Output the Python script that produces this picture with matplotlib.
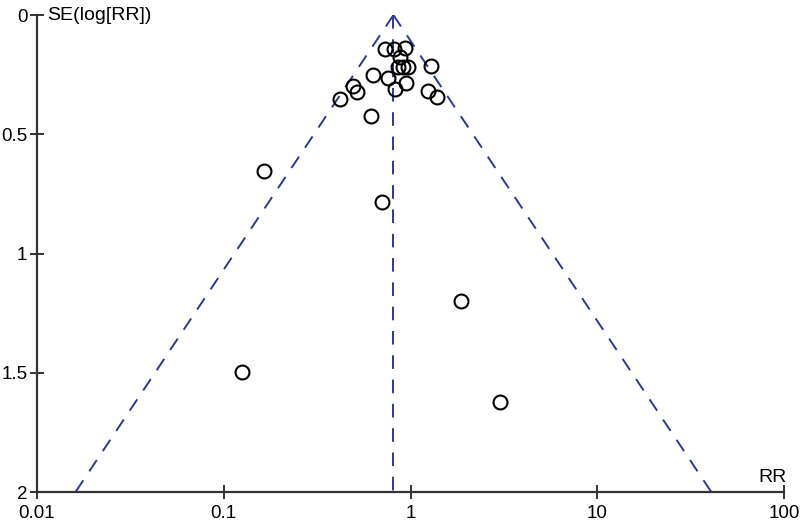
import numpy as np
import matplotlib
matplotlib.use("Agg")
import matplotlib.pyplot as plt

plt.rcParams['font.family'] = ['Liberation Sans', 'DejaVu Sans']

# study estimates
rr = [0.732, 0.814, 0.940, 0.884, 1.290, 0.855, 0.909, 0.967, 0.629, 0.756,
      0.948, 0.821, 0.491, 0.519, 0.417, 1.248, 1.389, 0.616, 0.164, 0.700,
      1.874, 0.125, 3.03]
se = [0.143, 0.143, 0.137, 0.175, 0.213, 0.219, 0.217, 0.217, 0.252, 0.265,
      0.286, 0.310, 0.296, 0.324, 0.352, 0.319, 0.343, 0.424, 0.654, 0.784,
      1.199, 1.497, 1.623]
pooled_rr = 0.81

x_ticks = [0.01, 0.1, 1, 10, 100]
x_labels = ["0.01", "0.1", "1", "10", "100"]
y_ticks = [0, 0.5, 1, 1.5, 2]
y_labels = ["0", "0.5", "1", "1.5", "2"]

fig = plt.figure(figsize=(8, 5.2), dpi=100)
ax = fig.add_axes([0.04625, 0.0538, 0.98 - 0.04625, 0.971 - 0.0538])

line_col = "#2b3990"
dash = (0, (7, 5.5))
se_line = np.array([0, 2.0])
ax.plot(np.exp(np.log(pooled_rr) - 1.96 * se_line), se_line, ls=dash, color=line_col, lw=1.4)
ax.plot(np.exp(np.log(pooled_rr) + 1.96 * se_line), se_line, ls=dash, color=line_col, lw=1.4)
ax.plot([pooled_rr, pooled_rr], [0, 2], ls=dash, color=line_col, lw=1.4)

ax.plot(rr, se, 'o', mfc='none', mec='black', ms=10, mew=1.5, ls='none')

ax.set_xscale('log')
ax.set_xlim(0.01, 100)
ax.set_ylim(2, 0)
ax.set_xticks(x_ticks)
ax.set_xticklabels(x_labels)
ax.xaxis.set_minor_locator(matplotlib.ticker.NullLocator())
ax.set_yticks(y_ticks)
ax.set_yticklabels(y_labels)

for s in ['top', 'right']:
    ax.spines[s].set_visible(False)
for s in ['left', 'bottom']:
    ax.spines[s].set_color('#333333')
    ax.spines[s].set_linewidth(1.6)
ax.tick_params(direction='inout', length=10, width=1.4, color='#333333', labelsize=13.5)
ax.tick_params(axis='x', pad=4)
ax.tick_params(axis='y', pad=2)

fig.text(47 / 800, 1 - 15 / 520, "SE(log[RR])", fontsize=14, va='center', ha='left')
fig.text(787 / 800, 1 - 478 / 520, "RR", fontsize=14, va='center', ha='right')

fig.savefig("out.png", dpi=100)
